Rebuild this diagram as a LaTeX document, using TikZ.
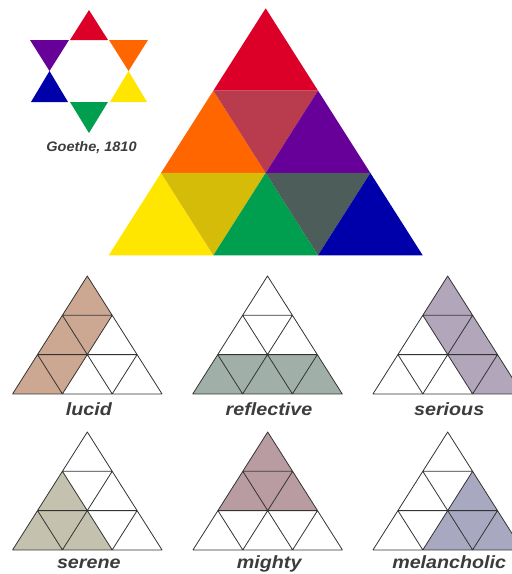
\documentclass[tikz,border=0pt]{standalone}
\usepackage{fontspec}
\setmainfont{Liberation Sans}
\definecolor{cRed}{HTML}{DC0028}
\definecolor{cOrange}{HTML}{FF6600}
\definecolor{cCrimson}{HTML}{B83C4E}
\definecolor{cPurple}{HTML}{660099}
\definecolor{cYellow}{HTML}{FFE600}
\definecolor{cOlive}{HTML}{D4BC08}
\definecolor{cGreen}{HTML}{009E4F}
\definecolor{cGray}{HTML}{4D5E5A}
\definecolor{cBlue}{HTML}{0000AA}
\definecolor{sLucid}{HTML}{CCA892}
\definecolor{sReflective}{HTML}{A0B0A8}
\definecolor{sSerious}{HTML}{B2A6BA}
\definecolor{sSerene}{HTML}{C4C2AE}
\definecolor{sMighty}{HTML}{B89CA2}
\definecolor{sMelancholic}{HTML}{A8A8C0}
\definecolor{txtGray}{HTML}{3C3C3C}
\definecolor{lineGray}{HTML}{333333}
\newcommand\filltri[2]{%
  \ifcase#2\or
    \fill[#1] (0,0)--(-1,1)--(1,1)--cycle;\or
    \fill[#1] (-1,1)--(-2,2)--(0,2)--cycle;\or
    \fill[#1] (-1,1)--(1,1)--(0,2)--cycle;\or
    \fill[#1] (1,1)--(0,2)--(2,2)--cycle;\or
    \fill[#1] (-2,2)--(-3,3)--(-1,3)--cycle;\or
    \fill[#1] (-2,2)--(0,2)--(-1,3)--cycle;\or
    \fill[#1] (0,2)--(-1,3)--(1,3)--cycle;\or
    \fill[#1] (0,2)--(2,2)--(1,3)--cycle;\or
    \fill[#1] (2,2)--(1,3)--(3,3)--cycle;\fi}
% #1 x, #2 y of apex, #3 colour, #4 shaded cells, #5 label, #6 label baseline y
\newcommand\moodtri[6]{%
  \begin{scope}[shift={(#1,#2)},x=24.9pt,y=-39.3pt]
    \foreach \i in {#4}{\filltri{#3}{\i}}
    \draw[gridline] (0,0)--(-3,3)--(3,3)--cycle
      (-1,1)--(1,1) (-2,2)--(2,2)
      (1,1)--(-1,3) (2,2)--(1,3)
      (-1,1)--(1,3) (-2,2)--(-1,3);
  \end{scope}
  \node[lab] at (#1+1.5,#6) {\scalebox{1}[0.9]{#5}};}
\begin{document}
\begin{tikzpicture}[x=1pt,y=-1pt,
  gridline/.style={draw=lineGray,line width=0.8pt,line join=round},
  lab/.style={font=\bfseries\itshape\fontsize{19.7}{22}\selectfont,text=txtGray,anchor=base,inner sep=0pt}]
\useasboundingbox (0,0) rectangle (512,574);
\clip (0,0) rectangle (512,574);
% Goethe star
\fill[cRed] (89,10)--(70,40)--(108,40)--cycle;
\fill[cPurple] (30,40)--(69,40)--(49.5,71)--cycle;
\fill[cOrange] (109,40)--(148,40)--(128.5,71)--cycle;
\fill[cBlue] (49.5,71)--(31,102)--(68,102)--cycle;
\fill[cYellow] (128.5,71)--(110,102)--(147,102)--cycle;
\fill[cGreen] (70,102)--(108,102)--(89,133)--cycle;
\node[font=\bfseries\itshape\fontsize{14.5}{17}\selectfont,text=txtGray,anchor=base,inner sep=0pt] (goethe) at (91.5,151.5) {\scalebox{1}[0.95]{Goethe, 1810}};
% big triangle
\begin{scope}[shift={(265.7,8.3)},x=52.33pt,y=-82.33pt]
  \foreach \i/\c in {1/cRed,2/cOrange,3/cCrimson,4/cPurple,5/cYellow,6/cOlive,7/cGreen,8/cGray,9/cBlue}{\filltri{\c}{\i}}
\end{scope}
% mood triangles
\moodtri{87.3}{276}{sLucid}{1,2,3,5,6}{lucid}{415.5}
\moodtri{267.5}{276}{sReflective}{5,6,7,8,9}{reflective}{415.5}
\moodtri{447.7}{276}{sSerious}{1,3,4,8,9}{serious}{415.5}
\moodtri{87.3}{432}{sSerene}{2,5,6,7}{serene}{568}
\moodtri{267.7}{432}{sMighty}{1,2,3,4}{mighty}{568}
\moodtri{447.7}{432}{sMelancholic}{4,7,8,9}{melancholic}{568}
\end{tikzpicture}
\end{document}
